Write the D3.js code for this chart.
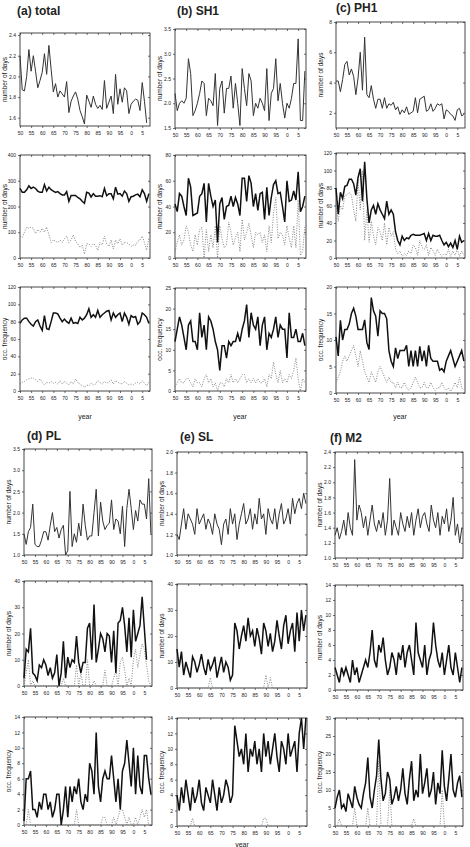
<!DOCTYPE html>
<html>
<head>
<meta charset="utf-8">
<script src="https://cdn.jsdelivr.net/npm/d3@7/dist/d3.min.js"></script>
<style>
  body { margin: 0; background: #fff; }
  svg text { font-family: "Liberation Sans", Arial, sans-serif; fill: #222; }
  .title { font-family: "Liberation Sans Narrow", "Liberation Sans", Arial, sans-serif; font-weight: bold; font-size: 12px; }
  .tick text { font-size: 5px; }
  .ylab { font-size: 6.5px; }
</style>
</head>
<body>
<svg id="chart" width="470" height="847"></svg>
<script>
// yearly values, first value = 1950
var total_days = [2.2,1.87,1.86,2.0,2.26,2.05,2.2,2.05,1.89,1.96,2.04,2.22,2.02,2.3,2.07,1.85,1.93,1.8,1.86,1.83,1.8,1.95,1.65,1.76,1.81,1.85,1.78,1.67,1.61,1.54,1.82,1.76,1.7,1.81,1.73,1.69,1.72,1.68,1.96,1.69,1.75,1.81,1.64,2.02,1.73,1.88,1.75,1.89,1.86,1.64,1.73,1.76,1.78,1.77,1.67,1.94,1.76,1.55];
var total_n = [270,255,255,265,280,270,275,270,260,255,255,285,260,275,265,260,255,258,250,245,245,258,220,243,243,243,235,230,220,212,255,252,237,250,240,240,242,238,270,242,250,250,230,275,248,250,240,260,250,220,238,240,245,248,238,265,250,220,250];
var total_n2 = [85,80,100,120,115,120,115,95,110,100,115,100,120,90,60,70,65,60,70,60,75,85,60,70,90,65,55,40,50,15,55,55,45,55,50,30,60,50,85,55,45,70,35,70,55,75,50,60,60,55,45,50,50,65,70,85,60,30,80];
var total_f = [78,82,84,84,80,77,75,80,82,75,70,87,72,71,80,90,90,89,84,80,83,80,78,84,78,79,78,85,82,84,88,95,85,88,85,93,85,88,90,92,93,82,90,85,88,90,80,90,85,77,87,85,86,77,80,90,88,85,78];
var total_f2 = [8,10,11,13,14,15,15,13,11,14,10,7,10,9,11,9,10,8,12,8,11,9,7,11,8,14,10,8,6,4,7,6,9,7,8,12,10,8,11,9,10,13,8,12,10,9,8,11,9,7,8,7,9,10,8,12,9,6,10];

var sh1_days = [2.2,1.85,2.0,2.05,2.0,2.1,2.9,2.6,1.75,1.85,2.0,2.2,2.45,2.4,1.75,2.1,2.05,1.95,2.6,1.55,2.3,2.45,1.8,2.3,2.3,2.55,1.9,2.4,2.0,1.55,2.7,2.3,1.95,2.6,2.45,1.75,2.0,1.9,2.1,2.0,1.85,2.7,1.65,2.2,2.3,2.9,2.05,2.4,2.0,1.7,2.0,1.9,2.1,2.4,2.4,3.3,1.65,1.65,2.65];
var sh1_n = [42,36,50,48,40,33,62,55,33,34,35,48,50,58,28,58,48,40,45,12,42,47,30,40,41,48,40,47,42,33,62,62,44,64,58,40,50,37,50,51,30,55,33,47,57,60,50,51,40,28,60,44,45,52,45,67,36,40,48];
var sh1_n2 = [5,12,18,10,14,25,20,10,5,18,10,22,24,0,22,5,18,8,25,0,25,15,8,10,28,20,10,16,20,5,30,14,20,27,18,8,20,18,20,12,18,5,25,12,35,47,15,20,18,10,25,15,8,25,8,45,2,5,25];
var sh1_f = [12,15,18,16,13,10,16,17,12,12,10,19,13,16,10,18,17,15,12,10,5,11,11,8,12,11,12,12,14,12,15,17,21,13,19,16,15,18,11,16,18,10,14,13,15,18,13,16,15,15,8,19,13,13,15,12,12,14,11];
var sh1_f2 = [1,2,3,2,2,3,3,2,1,3,2,2,1,3,4,2,3,1,2,0,2,2,1,3,2,4,2,3,2,3,4,4,2,3,2,3,2,3,2,2,3,1,4,3,7,4,2,5,2,3,2,4,3,5,8,3,0,3,2];

var ph1_days = [4.1,4.1,3.4,4.2,5.2,5.4,4.5,4.9,4.4,3.2,4.3,6.0,3.5,7.0,3.2,3.0,3.8,2.9,2.3,2.9,2.9,2.3,3.0,2.3,2.6,2.5,2.7,2.2,2.4,1.9,2.2,2.0,2.4,1.9,2.0,2.1,3.0,2.0,2.9,3.0,3.1,2.1,2.2,2.6,2.1,2.3,2.6,2.5,2.6,1.6,2.2,2.1,1.9,1.8,1.5,2.2,2.3,1.8,1.9];
var ph1_n = [80,50,75,68,82,83,90,90,85,72,92,102,65,110,68,40,55,60,50,62,55,50,45,65,50,55,50,30,20,15,25,20,23,22,26,27,26,26,26,27,28,20,28,20,26,25,25,26,20,15,18,13,17,12,20,10,25,18,20];
var ph1_n2 = [60,42,60,55,72,72,75,72,55,42,90,55,100,20,55,18,42,25,15,35,30,20,40,15,35,25,30,10,5,8,2,5,3,8,5,15,12,3,20,12,10,15,3,12,8,3,10,5,2,5,3,10,2,8,3,10,2,8,3];
var ph1_f = [10.6,7,13.7,10,12,12,13,15,16,14.5,12,12,12,13.8,9.5,8.2,18,15.5,14.5,10.7,15.5,15,15,14,8,6,5,8.5,6.5,8,8,8,9,5,8,5,8,5,8.8,6,8,5,9,6.5,6,6,6,4.3,4.6,4,6,7,8,6.5,5,6,7,8,6];
var ph1_f2 = [2,3,4,6,7,6,7,8,9,7,5,8,6,4,3,2,4,3,2,4,5,4,3,2,3,2,2,1,2,1,1,2,1,0.5,1,2,3,2,1,1,2,1,1,2,1,0.5,1,1,2,1,0.5,1,0.3,1,2,1,3,1,0.5];

var pl_days = [1.5,1.25,1.55,1.65,2.2,1.25,1.2,1.2,1.35,1.55,1.55,1.35,1.7,2.0,1.55,1.65,1.4,1.6,1.7,1.0,1.1,2.5,1.2,1.5,1.3,1.75,1.45,2.2,1.7,1.35,1.45,1.45,2.0,2.55,1.45,2.25,1.8,1.6,1.7,1.75,2.3,1.6,1.85,1.8,1.5,2.15,1.2,2.1,2.55,2.1,1.6,2.05,1.8,2.3,2.2,2.2,1.85,2.8,1.5];
var pl_n = [3,14,13,22,5,4,2,8,7,10,8,4,7,3,5,12,0,5,17,3,11,7,10,9,19,9,5,9,9,22,24,10,31,9,14,20,18,13,20,19,9,21,5,24,25,30,23,13,26,11,29,17,20,23,34,22,10];
var pl_n2 = [0,5,10,0,2,0,0,0,0,0,0,0,0,0,0,0,0,0,3,0,0,0,0,0,8,0,5,0,0,10,0,0,2,0,0,0,0,6,0,0,0,3,6,0,9,11,6,0,3,0,10,14,7,12,16,14,8,2,0];
var pl_f = [0.5,6,6,7,2,2,1,3,2,4,4,2,3,1,2,4,4,0,2,5,1,5,3,5,4,6,3,2,4,3,8,7,4,12,5,3,6,7,6,6,9,6,3,6,2,7,8,11,8,5,10,4,9,5,4,9,9,6,4];
var pl_f2 = [0,0,2,0,0,0,0,0,0,0,0,0,0,0,0,0,0,0,0,0,0,0,0,0,2,0,0,0,0,0,0,0,0,0,0,0,1,1,0,0,0,1,0,1,2,2,1,0,1,0,0,1,0,1,2,1,2,0,0];

var sl_days = [1.2,1.15,1.3,1.45,1.25,1.4,1.35,1.3,1.2,1.45,1.3,1.35,1.4,1.25,1.35,1.3,1.2,1.4,1.3,1.25,1.1,1.3,1.35,1.2,1.45,1.3,1.4,1.15,1.3,1.4,1.5,1.3,1.35,1.45,1.25,1.4,1.3,1.55,1.35,1.4,1.2,1.45,1.35,1.3,1.45,1.25,1.4,1.5,1.3,1.35,1.45,1.3,1.55,1.4,1.5,1.55,1.45,1.6,1.5];
var sl_n = [15,8,14,5,10,7,4,12,10,6,9,13,8,5,11,7,9,12,4,8,12,6,10,8,3,5,25,22,15,20,24,18,27,20,22,16,23,19,13,25,22,16,21,14,18,26,20,15,24,28,17,22,25,14,29,18,30,22,28];
var sl_n2 = [0,0,0,0,0,0,0,0,0,0,0,0,0,0,0,4,0,0,0,0,0,0,0,0,0,0,0,0,0,0,0,0,0,0,0,0,0,0,0,0,5,0,4,0,0,0,0,0,0,0,0,0,0,0,0,0,0,0,0];
var sl_f = [4,2,5,3,6,4,2,5,3,4,6,3,2,5,4,3,6,4,2,5,3,4,6,5,3,4,13,11,9,10,8,12,7,10,9,11,8,10,7,12,9,11,8,10,12,9,7,11,10,8,12,9,10,11,7,12,14,10,14];
var sl_f2 = [0,0,0,0,0,0,0,1,0,0,0,0,0,0,0,0,0,0,0,0,0,0,0,0,0,0,0,0,0,0,0,0,0,0,0,0,0,0,0,1,1,0,0,0,0,0,0,0,0,0,0,0,0,0,0,0,0,0,0];

var m2_days = [1.3,1.4,1.25,1.35,1.5,1.3,1.6,1.4,1.3,2.3,1.5,1.7,1.6,1.4,1.55,1.3,1.5,1.7,1.45,1.35,1.5,1.4,1.6,1.3,1.5,2.05,1.3,1.5,1.4,1.3,1.6,1.45,1.35,1.55,1.4,1.6,1.3,1.5,1.65,1.4,1.55,1.6,1.45,1.35,1.7,1.5,1.4,1.6,1.3,1.55,1.45,1.65,1.35,1.5,1.8,1.3,1.45,1.2,1.4];
var m2_n = [3,2,1,3,2,3,2,1,4,2,3,1,2,3,4,3,5,8,4,3,6,5,7,4,2,3,5,4,2,5,4,6,3,5,6,4,2,9,5,4,3,6,2,4,5,9,6,4,3,5,2,4,6,3,2,5,3,1,3];
var m2_n2 = [0,0,0,0,0,0,0,0,0,0,0,0,0,0,0,0,0,0,0,0,0,0,0,0,0,0,0,0,0,0,0,0,0,0,0,0,0,0,0,0,0,0,0,0,0,0,0,0,0,0,0,0,0,0,0,0,0,0,0];
var m2_f = [5,8,10,5,6,4,9,7,5,11,8,6,5,9,12,19,8,5,10,14,24,13,7,9,15,13,6,8,11,7,10,16,9,6,13,18,7,10,8,20,9,12,16,8,10,15,6,12,9,21,11,7,13,20,10,8,12,14,8];
var m2_f2 = [0,0,2,0,0,0,0,0,0,5,0,0,0,0,0,5,0,0,0,0,18,0,0,0,0,10,0,0,0,0,0,0,0,0,0,0,2,0,0,0,0,0,0,0,0,0,0,0,0,10,0,0,0,0,0,0,0,0,0];

var yearTicks = d3.range(1950, 2006, 5);

var svg = d3.select("#chart");

var panels = [
    { x0: 20, x1: 150, y0: 33, y1: 126, dom: [1.52, 2.42], ticks: [1.6, 1.8, 2.0, 2.2, 2.4], fmt: ".1f", lab: "number of days", s: total_days },
    { x0: 20, x1: 150, y0: 155, y1: 258, dom: [0, 400], ticks: [0, 100, 200, 300, 400], fmt: "d", lab: "number of days", s: total_n, d: total_n2 },
    { x0: 20, x1: 150, y0: 287, y1: 391, dom: [0, 120], ticks: [0, 20, 40, 60, 80, 100, 120], fmt: "d", lab: "occ. frequency", s: total_f, d: total_f2 },
    { x0: 175, x1: 306, y0: 29, y1: 128, dom: [1.5, 3.5], ticks: [1.5, 2.0, 2.5, 3.0, 3.5], fmt: ".1f", lab: "number of days", s: sh1_days },
    { x0: 175, x1: 306, y0: 155, y1: 258, dom: [0, 80], ticks: [0, 20, 40, 60, 80], fmt: "d", lab: "number of days", s: sh1_n, d: sh1_n2 },
    { x0: 175, x1: 306, y0: 288, y1: 391, dom: [0, 25], ticks: [0, 5, 10, 15, 20, 25], fmt: "d", lab: "occ. frequency", s: sh1_f, d: sh1_f2 },
    { x0: 336, x1: 465, y0: 22, y1: 128, dom: [1, 8], ticks: [2, 4, 6, 8], fmt: "d", lab: "number of days", s: ph1_days },
    { x0: 336, x1: 465, y0: 153, y1: 258, dom: [0, 120], ticks: [0, 20, 40, 60, 80, 100, 120], fmt: "d", lab: "number of days", s: ph1_n, d: ph1_n2 },
    { x0: 336, x1: 465, y0: 287, y1: 393, dom: [0, 20], ticks: [0, 5, 10, 15, 20], fmt: "d", lab: "occ. frequency", s: ph1_f, d: ph1_f2 },

    { x0: 24, x1: 152, y0: 449, y1: 555, dom: [1, 3.5], ticks: [1.0, 1.5, 2.0, 2.5, 3.0, 3.5], fmt: ".1f", lab: "number of days", s: pl_days },
    { x0: 24, x1: 152, y0: 581, y1: 686, dom: [0, 40], ticks: [0, 10, 20, 30, 40], fmt: "d", lab: "number of days", s: pl_n, d: pl_n2 },
    { x0: 24, x1: 152, y0: 717, y1: 825, dom: [0, 14], ticks: [0, 2, 4, 6, 8, 10, 12, 14], fmt: "d", lab: "occ. frequency", s: pl_f, d: pl_f2 },
    { x0: 177, x1: 307, y0: 452, y1: 555, dom: [1, 2], ticks: [1.0, 1.2, 1.4, 1.6, 1.8, 2.0], fmt: ".1f", lab: "number of days", s: sl_days },
    { x0: 177, x1: 307, y0: 584, y1: 688, dom: [0, 40], ticks: [0, 10, 20, 30, 40], fmt: "d", lab: "number of days", s: sl_n, d: sl_n2 },
    { x0: 177, x1: 307, y0: 718, y1: 826, dom: [0, 14], ticks: [0, 2, 4, 6, 8, 10, 12, 14], fmt: "d", lab: "occ. frequency", s: sl_f, d: sl_f2 },
    { x0: 335, x1: 463, y0: 452, y1: 558, dom: [1, 2.4], ticks: [1.0, 1.2, 1.4, 1.6, 1.8, 2.0, 2.2, 2.4], fmt: ".1f", lab: "number of days", s: m2_days },
    { x0: 335, x1: 463, y0: 585, y1: 690, dom: [0, 14], ticks: [0, 2, 4, 6, 8, 10, 12, 14], fmt: "d", lab: "number of days", s: m2_n, d: m2_n2 },
    { x0: 335, x1: 463, y0: 718, y1: 826, dom: [0, 30], ticks: [0, 5, 10, 15, 20, 25, 30], fmt: "d", lab: "occ. frequency", s: m2_f, d: m2_f2 }
];

panels.forEach(function (p, k) {
    var x = d3.scaleLinear().domain([1950, 2008.5]).range([p.x0, p.x1]);
    var y = d3.scaleLinear().domain(p.dom).range([p.y1, p.y0]).clamp(true);
    var g = svg.append("g");
    var bold = (k % 3) !== 0;

    // left axis with labels
    g.append("g")
        .attr("transform", "translate(" + p.x0 + ",0)")
        .call(d3.axisLeft(y).tickValues(p.ticks).tickFormat(d3.format(p.fmt)).tickSize(2).tickPadding(2));
    // right, top: inward ticks only
    g.append("g")
        .attr("transform", "translate(" + p.x1 + ",0)")
        .call(d3.axisLeft(y).tickValues(p.ticks).tickFormat("").tickSize(2));
    g.append("g")
        .attr("transform", "translate(0," + p.y0 + ")")
        .call(d3.axisBottom(x).tickValues(yearTicks).tickFormat("").tickSize(2));
    g.append("g")
        .attr("transform", "translate(0," + p.y1 + ")")
        .call(d3.axisBottom(x).tickValues(yearTicks).tickFormat(function (d) { return d % 100; }).tickSize(2).tickPadding(3));

    g.selectAll(".domain").remove();
    g.selectAll(".tick line").attr("stroke", "#333").attr("stroke-width", 0.7);
    g.selectAll(".tick text").attr("fill", "#222");

    g.append("rect")
        .attr("x", p.x0).attr("y", p.y0)
        .attr("width", p.x1 - p.x0).attr("height", p.y1 - p.y0)
        .attr("fill", "none").attr("stroke", "#333").attr("stroke-width", 0.9);

    var line = d3.line()
        .x(function (d, i) { return x(1950 + i); })
        .y(function (d) { return y(d); });

    if (p.d) {
        g.append("path").datum(p.d)
            .attr("d", line).attr("fill", "none")
            .attr("stroke", "#777").attr("stroke-width", 0.9)
            .attr("stroke-dasharray", "1,1.5");
    }
    g.append("path").datum(p.s)
        .attr("d", line).attr("fill", "none")
        .attr("stroke", bold ? "#111" : "#333")
        .attr("stroke-width", bold ? 1.5 : 1);

    g.append("text")
        .attr("class", "ylab")
        .attr("transform", "translate(" + (p.x0 - 13) + "," + ((p.y0 + p.y1) / 2) + ") rotate(-90)")
        .attr("text-anchor", "middle")
        .text(p.lab);
});

// panel titles
var titles = [
    { t: "(a) total", x: 17, y: 15 },
    { t: "(b) SH1", x: 177, y: 15 },
    { t: "(c) PH1", x: 336, y: 12 },
    { t: "(d) PL", x: 27, y: 440 },
    { t: "(e) SL", x: 180, y: 441 },
    { t: "(f) M2", x: 330, y: 442 }
];
svg.selectAll(".title").data(titles).enter().append("text")
    .attr("class", "title")
    .attr("x", function (d) { return d.x; })
    .attr("y", function (d) { return d.y; })
    .text(function (d) { return d.t; });

// x axis titles
[[85, 419], [240, 419], [400, 419], [242, 847]].forEach(function (c) {
    svg.append("text").attr("x", c[0]).attr("y", c[1])
        .attr("text-anchor", "middle").attr("font-size", "7px")
        .text("year");
});
</script>
</body>
</html>
